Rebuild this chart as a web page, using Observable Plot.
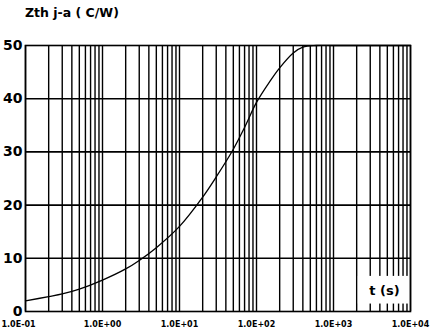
<!DOCTYPE html>
<html>
<head>
<meta charset="utf-8">
<script src="https://cdn.jsdelivr.net/npm/d3@7"></script>
<script src="https://cdn.jsdelivr.net/npm/@observablehq/plot@0.6"></script>
<style>
  html, body { margin: 0; padding: 0; background: #fff; }
  #wrap { position: relative; width: 432px; height: 330px; }
  #title { position: absolute; left: 25px; top: 5px; font: bold 12.5px "DejaVu Sans", sans-serif; color: #000; }
</style>
</head>
<body>
<div id="wrap">
  <div id="title">Zth j-a ( C/W)</div>
  <div id="chart"></div>
</div>
<script>
// Time (s) and thermal impedance Zth j-a (C/W)
const times = [0.1, 0.2, 0.3, 0.5, 1, 2, 3, 5, 10, 20, 30, 50, 70, 100, 150, 200, 300, 400, 600, 1000, 10000];
const zth   = [2.0, 2.8, 3.3, 4.2, 5.9, 8.0, 9.6, 12.0, 16.0, 21.5, 25.3, 30.5, 34.6, 39.3, 43.3, 45.8, 48.6, 49.7, 50, 50, 50];

const xDecades = [0.1, 1, 10, 100, 1000, 10000];
const xTickLabels = ["1.0E-01", "1.0E+00", "1.0E+01", "1.0E+02", "1.0E+03", "1.0E+04"];
const yTicks = [0, 10, 20, 30, 40, 50];
const yGrid = [10, 20, 30, 40];
const axisLabel = ["t (s)"];
const axisLabelBox = {x1: 2.1e3, x2: 9.5e3, y1: 1.4, y2: 6.6, x: 4.6e3, y: 3.9};

const xGrid = [];
for (const d of [0.1, 1, 10, 100, 1000]) for (let k = 1; k <= 9; k++) xGrid.push(d * k);
xGrid.push(10000);

const data = times.map((t, i) => ({t, z: zth[i]}));
const FONT = "DejaVu Sans";

const chart = Plot.plot({
  width: 432,
  height: 330,
  marginLeft: 25,
  marginRight: 22,
  marginTop: 45,
  marginBottom: 19,
  style: {fontFamily: FONT, background: "#fff", overflow: "visible"},
  x: {type: "log", domain: [0.1, 10000]},
  y: {domain: [0, 50]},
  marks: [
    Plot.ruleX(xGrid, {stroke: "#000", strokeWidth: 1.4}),
    Plot.ruleY(yGrid, {stroke: "#000", strokeWidth: 1.6}),
    Plot.rect([axisLabelBox], {x1: "x1", x2: "x2", y1: "y1", y2: "y2", fill: "#fff"}),
    Plot.text(axisLabel, {x: () => axisLabelBox.x, y: () => axisLabelBox.y, text: d => d,
      fontSize: 13, fontWeight: "bold", fill: "#000"}),
    Plot.line(data, {x: "t", y: "z", curve: "catmull-rom", stroke: "#000", strokeWidth: 1.3}),
    Plot.frame({stroke: "#000", strokeWidth: 1.6}),
    Plot.axisY(yTicks, {tickSize: 0, tickPadding: 3, fontSize: 14, fontWeight: "bold", fill: "#000", label: null}),
    Plot.axisX(xDecades.slice(1), {tickSize: 0, tickPadding: 10, fontSize: 8, fontWeight: "bold", fill: "#000",
      label: null, tickFormat: d => xTickLabels[xDecades.indexOf(d)]}),
    Plot.axisX(xDecades.slice(0, 1), {tickSize: 0, tickPadding: 10, fontSize: 8, fontWeight: "bold", fill: "#000",
      label: null, textAnchor: "start", dx: -24, tickFormat: d => xTickLabels[xDecades.indexOf(d)]})
  ]
});
document.getElementById("chart").appendChild(chart);
</script>
</body>
</html>
